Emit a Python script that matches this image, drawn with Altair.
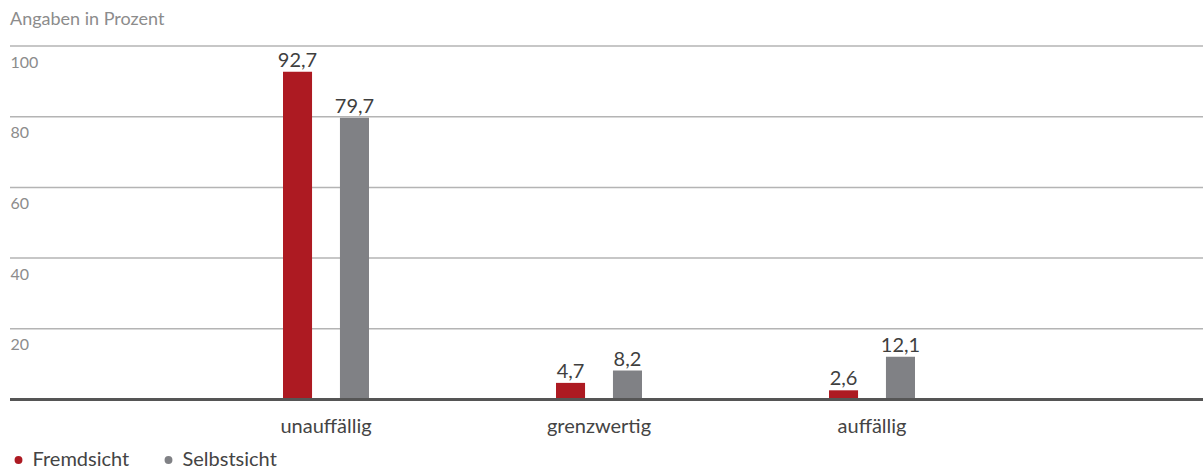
import altair as alt
import pandas as pd

# Werte in Prozent je Kategorie
categories = ["unauffällig", "grenzwertig", "auffällig"]
series = ["Fremdsicht", "Selbstsicht"]
fremdsicht = [92.7, 4.7, 2.6]
selbstsicht = [79.7, 8.2, 12.1]
y_ticks = [20, 40, 60, 80, 100]
colors = ["#ad1a22", "#808185"]

rows = []
for i, cat in enumerate(categories):
    rows.append({"Kategorie": cat, "Sicht": series[0], "Wert": fremdsicht[i]})
    rows.append({"Kategorie": cat, "Sicht": series[1], "Wert": selbstsicht[i]})
df = pd.DataFrame(rows)
df["Label"] = df["Wert"].map(lambda v: f"{v:.1f}".replace(".", ","))

x_enc = alt.X(
    "Kategorie:N",
    sort=categories,
    scale=alt.Scale(range=[273, 905], paddingInner=0.685, paddingOuter=0),
    axis=alt.Axis(
        title=None, domain=False, ticks=False, tickSize=0, grid=False,
        labelAngle=0, labelFontSize=20, labelColor="#444444", labelPadding=17,
    ),
)
xo_enc = alt.XOffset(
    "Sicht:N", sort=series, scale=alt.Scale(paddingInner=0.49, paddingOuter=0)
)
y_enc = alt.Y(
    "Wert:Q",
    scale=alt.Scale(domain=[0, 100], nice=False),
    axis=alt.Axis(
        values=y_ticks, title=None, domain=False, ticks=False, tickSize=0,
        grid=False, labelAlign="left", labelBaseline="top", labelPadding=0,
        labelOffset=8, labelFlush=False, labelOverlap=False,
        labelFontSize=16, labelColor="#8c8c8c",
    ),
)

# horizontale Hilfslinien über die ganze Breite
grid = alt.Chart(pd.DataFrame({"v": y_ticks})).mark_rule(
    color="#b4b4b4", strokeWidth=1.5
).encode(y=alt.Y("v:Q", scale=alt.Scale(domain=[0, 100], nice=False)))

bars = alt.Chart(df).mark_bar().encode(
    x=x_enc,
    xOffset=xo_enc,
    y=y_enc,
    color=alt.Color(
        "Sicht:N",
        scale=alt.Scale(domain=series, range=colors),
        legend=alt.Legend(
            title=None, orient="none", legendX=-1.5, legendY=404,
            direction="horizontal", symbolType="circle", symbolSize=62,
            labelFontSize=20, labelColor="#444444", labelOffset=4,
            columnPadding=29, padding=0,
        ),
    ),
)

labels = alt.Chart(df).mark_text(
    baseline="alphabetic", dy=-5, fontSize=20, color="#3f3f3f"
).encode(x=x_enc, xOffset=xo_enc, y=y_enc, text="Label:N")

baseline = alt.Chart(pd.DataFrame({"null": [0]})).mark_rule(
    color="#555555", strokeWidth=3
).encode(y="null:Q")

chart = (
    alt.layer(grid, bars, labels, baseline)
    .properties(
        width=1193,
        height=353.5,
        autosize="none",
        padding={"left": 10, "top": 46, "right": 0, "bottom": 69.5},
        title=alt.TitleParams(
            "Angaben in Prozent", anchor="start", frame="group", fontSize=18,
            fontWeight="normal", color="#8c8c8c", baseline="alphabetic", offset=2,
        ),
    )
    .configure(font="Lato")
    .configure_view(stroke=None)
)

chart.save("out.html", embed_options={"renderer": "svg", "actions": False})
